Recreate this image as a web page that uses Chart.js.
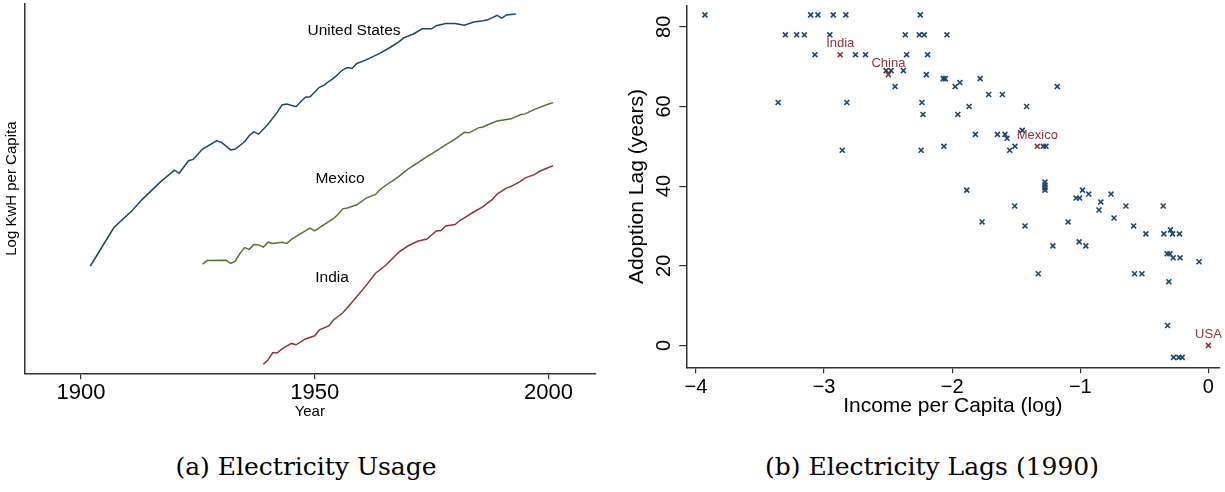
<!DOCTYPE html>
<html>
<head>
<meta charset="utf-8">
<script src="https://cdn.jsdelivr.net/npm/chart.js@4/dist/chart.umd.min.js"></script>
<style>
  html, body { margin: 0; padding: 0; background: #ffffff; }
  body { width: 1225px; height: 492px; position: relative; overflow: hidden; }
  canvas { position: absolute; top: 0; }
  #c1 { left: 0; }
  #c2 { left: 610px; }
  .cap { position: absolute; top: 452px; font-family: "DejaVu Serif", "Liberation Serif", serif; font-size: 25px; color: #000; white-space: nowrap; transform: translateX(-50%); }
</style>
</head>
<body>
<canvas id="c1" width="610" height="430"></canvas>
<canvas id="c2" width="615" height="430"></canvas>
<div class="cap" id="capA" style="left:306px;"></div>
<div class="cap" id="capB" style="left:932px;"></div>
<script>
// ---------------- Data: panel (a) ----------------
const usYears = [1902,1907,1911,1913,1917,1920,1921,1923,1924,1926,1929,1930,1932,1933,1935,1936,1937,1938,1940,1942,1943,1944,1946,1947,1948,1949,1951,1952,1953,1954,1956,1957,1958,1959,1961,1964,1966,1968,1969,1971,1973,1975,1976,1978,1980,1982,1984,1986,1987,1989,1990,1991,1993];
const usValues = [3.80,4.65,5.04,5.27,5.67,5.93,5.86,6.14,6.17,6.40,6.58,6.55,6.38,6.40,6.56,6.70,6.78,6.73,6.95,7.22,7.38,7.40,7.34,7.45,7.55,7.56,7.77,7.82,7.90,7.97,8.16,8.21,8.19,8.30,8.38,8.53,8.65,8.78,8.87,8.95,9.07,9.07,9.14,9.19,9.19,9.15,9.22,9.25,9.27,9.37,9.31,9.38,9.40];

const mexYears = [1926,1927,1931,1932,1933,1934,1935,1936,1937,1938,1939,1940,1941,1943,1944,1945,1947,1948,1949,1950,1952,1954,1955,1956,1957,1959,1961,1963,1964,1966,1968,1970,1972,1974,1975,1978,1980,1982,1983,1985,1986,1987,1989,1992,1994,1995,1997,1998,2000,2001];
const mexValues = [3.84,3.92,3.93,3.86,3.91,4.08,4.21,4.17,4.28,4.27,4.22,4.33,4.30,4.33,4.30,4.39,4.52,4.58,4.64,4.58,4.72,4.85,4.95,5.07,5.09,5.16,5.31,5.39,5.50,5.65,5.79,5.96,6.09,6.23,6.29,6.49,6.62,6.77,6.76,6.87,6.89,6.94,7.02,7.07,7.16,7.18,7.28,7.32,7.40,7.43];

const indYears = [1939,1940,1941,1942,1943,1945,1946,1948,1950,1951,1953,1954,1956,1957,1959,1961,1963,1965,1966,1968,1970,1972,1974,1976,1977,1978,1980,1981,1982,1984,1986,1988,1989,1991,1992,1994,1995,1997,1998,2000,2001];
const indValues = [1.62,1.71,1.87,1.87,1.96,2.08,2.05,2.18,2.25,2.38,2.47,2.60,2.76,2.88,3.12,3.37,3.64,3.80,3.90,4.11,4.25,4.35,4.40,4.58,4.59,4.69,4.72,4.81,4.87,5.00,5.12,5.28,5.40,5.53,5.57,5.68,5.76,5.83,5.90,5.99,6.03];

const lineLabelNames  = ["United States", "Mexico", "India"];
const lineLabelYears  = [1958.4, 1955.4, 1953.7];
const lineLabelValues = [9.03, 5.73, 3.54];

const yearTicks = [1900, 1950, 2000];

// ---------------- Data: panel (b) ----------------
const incomeOther = [-3.93,-3.105,-3.048,-2.928,-2.830,-2.249,-3.302,-3.214,-3.154,-2.955,-2.366,-2.257,-2.218,-2.041,-3.072,-2.755,-2.677,-2.356,-2.192,-2.516,-2.477,-2.381,-2.202,-2.070,-2.054,-2.446,-1.977,-1.940,-3.359,-2.822,-2.236,-2.228,-1.956,-2.858,-2.243,-2.065,-1.782,-1.715,-1.608,-1.180,-1.868,-1.419,-1.819,-1.647,-1.588,-1.572,-1.453,-1.510,-1.551,-1.289,-1.268,-1.276,-1.276,-1.276,-1.276,-1.886,-0.983,-0.934,-0.760,-1.033,-1.006,-0.840,-1.512,-0.644,-0.353,-0.854,-0.737,-1.767,-1.095,-1.432,-0.584,-0.488,-0.348,-0.296,-0.280,-0.226,-1.009,-0.957,-1.214,-0.322,-0.301,-0.275,-0.221,-0.073,-1.328,-0.576,-0.519,-0.309,-0.319,-0.272,-0.231,-0.205];
const lagOther    = [83,83,83,83,83,83,78,78,78,78,78,78,78,78,73,73,73,73,73,69,69,69,68,67,67,65,65,66,61,61,61,58,58,49,49,50,67,63,63,65,60,60,53,53,53,52,54,50,49,50,50,41,40.3,39.6,39,39,39,38,38,37,37,36,35,35,35,34,32,31,31,30,30,28,28,29,28,28,26,25,25,23,23,22,22,21,18,18,18,16,5,-3,-3,-3];

const highlightNames  = ["India", "China", "Mexico", "USA"];
const incomeHighlight = [-2.874, -2.498, -1.336, 0.0];
const lagHighlight    = [73, 68, 50, 0];

const incomeTicks = [-4, -3, -2, -1, 0];
const incomeTickLabels = ["\u22124", "\u22123", "\u22122", "\u22121", "0"];
const lagTicks = [0, 20, 40, 60, 80];

const captionA = "(a) Electricity Usage";
const captionB = "(b) Electricity Lags (1990)";
document.getElementById('capA').textContent = captionA;
document.getElementById('capB').textContent = captionB;

// ---------------- Styles ----------------
const BLUE = '#1a476f', GREEN = '#55752f', RED = '#90353b', AXIS = '#333333';
Chart.defaults.font.family = '"Liberation Sans", Arial, Helvetica, sans-serif';
Chart.defaults.color = '#000';

const toXY = (xs, ys) => xs.map((x, i) => ({x: x, y: ys[i]}));

const lineLabelPlugin = {
  id: 'lineLabels',
  afterDatasetsDraw(chart) {
    const {ctx, scales: {x, y}} = chart;
    ctx.save();
    ctx.font = '15.5px "Liberation Sans", Arial, sans-serif';
    ctx.fillStyle = '#000';
    ctx.textAlign = 'center';
    ctx.textBaseline = 'middle';
    lineLabelNames.forEach((n, i) => {
      ctx.fillText(n, x.getPixelForValue(lineLabelYears[i]), y.getPixelForValue(lineLabelValues[i]));
    });
    ctx.restore();
  }
};

const pointLabelPlugin = {
  id: 'pointLabels',
  afterDatasetsDraw(chart) {
    const {ctx, scales: {x, y}} = chart;
    ctx.save();
    ctx.font = '13px "Liberation Sans", Arial, sans-serif';
    ctx.fillStyle = RED;
    ctx.textAlign = 'center';
    ctx.textBaseline = 'middle';
    highlightNames.forEach((n, i) => {
      ctx.fillText(n, x.getPixelForValue(incomeHighlight[i]), y.getPixelForValue(lagHighlight[i]) - 11);
    });
    ctx.restore();
  }
};

// ---------------- Panel (a) ----------------
new Chart(document.getElementById('c1'), {
  type: 'line',
  data: {
    datasets: [
      {label: 'United States', data: toXY(usYears, usValues), borderColor: BLUE},
      {label: 'Mexico', data: toXY(mexYears, mexValues), borderColor: GREEN},
      {label: 'India', data: toXY(indYears, indValues), borderColor: RED}
    ]
  },
  options: {
    responsive: false,
    animation: false,
    devicePixelRatio: 1,
    elements: {line: {borderWidth: 1.5, tension: 0}, point: {radius: 0}},
    layout: {padding: {left: 0, top: 4, right: 14.7, bottom: 0}},
    plugins: {legend: {display: false}, tooltip: {enabled: false}},
    scales: {
      x: {
        type: 'linear', min: 1887.87, max: 2010.01,
        afterBuildTicks: s => { s.ticks = yearTicks.map(v => ({value: v})); },
        grid: {display: true, drawOnChartArea: false, drawTicks: true, tickLength: 6, color: AXIS, lineWidth: 1.2},
        border: {display: true, color: AXIS, width: 1.5},
        ticks: {font: {size: 22}, color: '#000', padding: 0, maxRotation: 0, minRotation: 0, autoSkip: false,
                callback: v => String(v)},
        title: {display: true, text: 'Year', font: {size: 15}, color: '#000', padding: {top: 0, bottom: 9}},
        afterFit: s => { s.height = 56.7; s.paddingLeft = 0; s.paddingRight = 0; }
      },
      y: {
        type: 'linear', min: 1.416, max: 9.622,
        ticks: {display: false},
        grid: {display: false},
        border: {display: true, color: AXIS, width: 1.5},
        title: {display: true, text: 'Log KwH per Capita', font: {size: 15}, color: '#000', padding: {top: 3, bottom: 0}},
        afterFit: s => { s.width = 24.3; s.paddingTop = 0; s.paddingBottom = 0; }
      }
    }
  },
  plugins: [lineLabelPlugin]
});

// ---------------- Panel (b) ----------------
new Chart(document.getElementById('c2'), {
  type: 'scatter',
  data: {
    datasets: [
      {label: 'Countries', data: toXY(incomeOther, lagOther), borderColor: BLUE, backgroundColor: BLUE},
      {label: 'Highlighted', data: toXY(incomeHighlight, lagHighlight), borderColor: RED, backgroundColor: RED}
    ]
  },
  options: {
    responsive: false,
    animation: false,
    devicePixelRatio: 1,
    elements: {point: {pointStyle: 'crossRot', radius: 3.5, borderWidth: 1.6}},
    layout: {padding: {left: 0, top: 4, right: 4, bottom: 0}},
    plugins: {legend: {display: false}, tooltip: {enabled: false}},
    scales: {
      x: {
        type: 'linear', min: -4.0755, max: 0.0856,
        afterBuildTicks: s => { s.ticks = incomeTicks.map(v => ({value: v})); },
        grid: {display: true, drawOnChartArea: false, drawTicks: true, tickLength: 6, color: AXIS, lineWidth: 1.2},
        border: {display: true, color: AXIS, width: 1.5},
        ticks: {font: {size: 20}, color: '#000', padding: 2, maxRotation: 0, minRotation: 0, autoSkip: false,
                callback: (v, i) => incomeTickLabels[i]},
        title: {display: true, text: 'Income per Capita (log)', font: {size: 21}, color: '#000', padding: {top: 0, bottom: 11}},
        afterFit: s => { s.height = 62.7; s.paddingLeft = 0; s.paddingRight = 0; }
      },
      y: {
        type: 'linear', min: -5.5, max: 85.33,
        afterBuildTicks: s => { s.ticks = lagTicks.map(v => ({value: v})); },
        grid: {display: true, drawOnChartArea: false, drawTicks: true, tickLength: 7, color: AXIS, lineWidth: 1.2},
        border: {display: true, color: AXIS, width: 1.5},
        ticks: {font: {size: 20}, color: '#000', padding: 4, minRotation: 90, maxRotation: 90, crossAlign: 'center', autoSkip: false,
                callback: v => String(v)},
        title: {display: true, text: 'Adoption Lag (years)', font: {size: 21}, color: '#000', padding: {top: 15, bottom: 0}},
        afterFit: s => { s.width = 76.3; s.paddingTop = 0; s.paddingBottom = 0; }
      }
    }
  },
  plugins: [pointLabelPlugin]
});
</script>
</body>
</html>
